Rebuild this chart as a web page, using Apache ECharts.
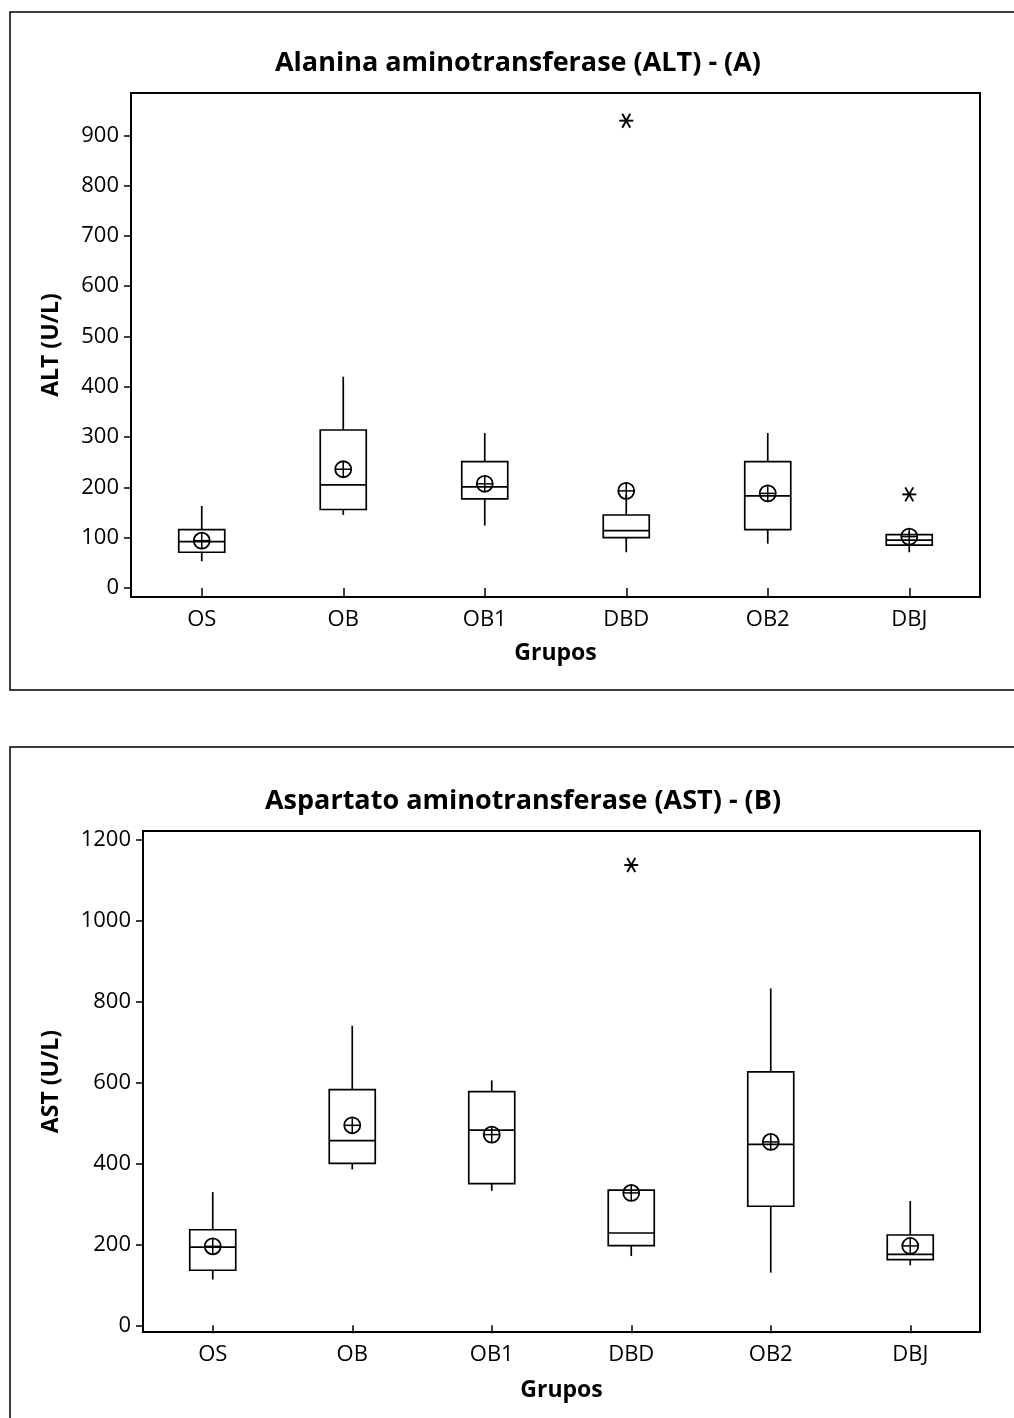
<!DOCTYPE html>
<html>
<head>
<meta charset="utf-8">
<style>
  html, body { margin: 0; padding: 0; background: #fff; }
  #chart { width: 1014px; height: 1418px; }
</style>
</head>
<body>
<div id="chart"></div>
<script src="https://cdn.jsdelivr.net/npm/echarts@6/dist/echarts.min.js"></script>
<script>
  const groups = ['OS', 'OB', 'OB1', 'DBD', 'OB2', 'DBJ'];

  // [min, Q1, mediana, Q3, max]
  const altBox = [
    [53, 71, 92, 116, 163],
    [145, 156, 205, 314, 420],
    [124, 177, 201, 251, 308],
    [71, 100, 114, 145, 185],
    [88, 116, 183, 251, 308],
    [71, 85, 95, 106, 112]
  ];
  const altMean = [94, 236, 207, 193, 188, 102];
  const altOutliers = [[3, 929], [5, 186]];
  const altTicks = [0, 100, 200, 300, 400, 500, 600, 700, 800, 900];

  const astBox = [
    [113, 136, 193, 236, 329],
    [385, 400, 456, 582, 740],
    [332, 350, 482, 577, 605],
    [171, 197, 228, 334, 334],
    [130, 294, 447, 626, 832],
    [148, 162, 175, 223, 307]
  ];
  const astMean = [195, 494, 471, 327, 453, 196];
  const astOutliers = [[3, 1137]];
  const astTicks = [0, 200, 400, 600, 800, 1000, 1200];

  const FONT = 'Open Sans';
  const LW = 1.7;
  const chart = echarts.init(document.getElementById('chart'));

  function renderBox(params, api) {
    const i = api.value(0);
    const pMin = api.coord([i, api.value(1)]);
    const pQ1 = api.coord([i, api.value(2)]);
    const pMed = api.coord([i, api.value(3)]);
    const pQ3 = api.coord([i, api.value(4)]);
    const pMax = api.coord([i, api.value(5)]);
    const cx = pMed[0];
    const hw = 23;
    const st = { stroke: '#000', lineWidth: LW };
    return {
      type: 'group',
      children: [
        { type: 'line', shape: { x1: cx, y1: pMin[1], x2: cx, y2: pQ1[1] }, style: st },
        { type: 'line', shape: { x1: cx, y1: pQ3[1], x2: cx, y2: pMax[1] }, style: st },
        { type: 'rect', shape: { x: cx - hw, y: pQ3[1], width: hw * 2, height: pQ1[1] - pQ3[1] },
          style: { fill: '#fff', stroke: '#000', lineWidth: LW } },
        { type: 'line', shape: { x1: cx - hw, y1: pMed[1], x2: cx + hw, y2: pMed[1] }, style: st }
      ]
    };
  }

  function renderMean(params, api) {
    const p = api.coord([api.value(0), api.value(1)]);
    const r = 8;
    const st = { stroke: '#000', lineWidth: 1.5, fill: null };
    return {
      type: 'group',
      children: [
        { type: 'circle', shape: { cx: p[0], cy: p[1], r: r }, style: { stroke: '#000', lineWidth: 1.8, fill: 'none' } },
        { type: 'line', shape: { x1: p[0] - r, y1: p[1], x2: p[0] + r, y2: p[1] }, style: st },
        { type: 'line', shape: { x1: p[0], y1: p[1] - r, x2: p[0], y2: p[1] + r }, style: st }
      ]
    };
  }

  function renderStar(params, api) {
    const p = api.coord([api.value(0), api.value(1)]);
    const st = { stroke: '#000', lineWidth: 1.9 };
    return {
      type: 'group',
      children: [
        { type: 'line', shape: { x1: p[0] - 7, y1: p[1], x2: p[0] + 7, y2: p[1] }, style: st },
        { type: 'line', shape: { x1: p[0] - 4, y1: p[1] - 7, x2: p[0] + 4, y2: p[1] + 7 }, style: st },
        { type: 'line', shape: { x1: p[0] + 4, y1: p[1] - 7, x2: p[0] - 4, y2: p[1] + 7 }, style: st }
      ]
    };
  }

  function xAxisFor(gridIndex) {
    return {
      type: 'category',
      gridIndex: gridIndex,
      data: groups,
      boundaryGap: true,
      name: 'Grupos',
      nameLocation: 'middle',
      nameGap: gridIndex === 0 ? 45 : 47,
      nameTextStyle: { fontFamily: FONT, fontSize: 23, fontWeight: 'bold', color: '#000' },
      axisLine: { show: false },
      axisTick: { show: true, alignWithLabel: true, length: 8, lineStyle: { color: '#000', width: 1.5 } },
      axisLabel: { fontFamily: FONT, fontSize: 22, color: '#000', margin: 12 },
      splitLine: { show: false }
    };
  }

  function yAxisFor(gridIndex, name, min, max, ticks, gap) {
    return {
      type: 'value',
      gridIndex: gridIndex,
      min: min,
      max: max,
      name: name,
      nameLocation: 'middle',
      nameGap: gap,
      nameRotate: 90,
      nameTextStyle: { fontFamily: FONT, fontSize: 23, fontWeight: 'bold', color: '#000' },
      axisLine: { show: false },
      axisTick: { show: true, length: 7, customValues: ticks, lineStyle: { color: '#000', width: 1.5 } },
      axisLabel: { fontFamily: FONT, fontSize: 22, color: '#000', margin: 12, customValues: ticks,
                   formatter: v => String(v) },
      splitLine: { show: false }
    };
  }

  const boxData = arr => arr.map((b, i) => [i].concat(b));
  const meanData = arr => arr.map((m, i) => [i, m]);

  const option = {
    animation: false,
    backgroundColor: '#fff',
    graphic: [
      { type: 'rect', shape: { x: 10, y: 12, width: 1020, height: 678 }, style: { fill: 'none', stroke: '#000', lineWidth: 1.5 }, z: -1 },
      { type: 'rect', shape: { x: 10, y: 747, width: 1020, height: 700 }, style: { fill: 'none', stroke: '#000', lineWidth: 1.5 }, z: -1 },
      { type: 'text', x: 518, y: 63, style: { text: 'Alanina aminotransferase (ALT) - (A)', font: 'bold 27px "Open Sans"', fill: '#000', textAlign: 'center', textVerticalAlign: 'middle' } },
      { type: 'text', x: 523, y: 801, style: { text: 'Aspartato aminotransferase (AST) - (B)', font: 'bold 27px "Open Sans"', fill: '#000', textAlign: 'center', textVerticalAlign: 'middle' } }
    ],
    grid: [
      { left: 131, top: 93, right: 34, height: 504, show: true, borderColor: '#000', borderWidth: 2, backgroundColor: 'transparent' },
      { left: 143, top: 831, right: 34, height: 501, show: true, borderColor: '#000', borderWidth: 2, backgroundColor: 'transparent' }
    ],
    xAxis: [xAxisFor(0), xAxisFor(1)],
    yAxis: [
      yAxisFor(0, 'ALT (U/L)', -18, 984, altTicks, 68),
      yAxisFor(1, 'AST (U/L)', -16.6, 1221, astTicks, 80)
    ],
    series: [
      { type: 'custom', xAxisIndex: 0, yAxisIndex: 0, renderItem: renderBox, encode: { x: 0, y: [1, 2, 3, 4, 5] }, data: boxData(altBox) },
      { type: 'custom', xAxisIndex: 0, yAxisIndex: 0, renderItem: renderMean, encode: { x: 0, y: 1 }, data: meanData(altMean), z: 3 },
      { type: 'custom', xAxisIndex: 0, yAxisIndex: 0, renderItem: renderStar, encode: { x: 0, y: 1 }, data: altOutliers, z: 3 },
      { type: 'custom', xAxisIndex: 1, yAxisIndex: 1, renderItem: renderBox, encode: { x: 0, y: [1, 2, 3, 4, 5] }, data: boxData(astBox) },
      { type: 'custom', xAxisIndex: 1, yAxisIndex: 1, renderItem: renderMean, encode: { x: 0, y: 1 }, data: meanData(astMean), z: 3 },
      { type: 'custom', xAxisIndex: 1, yAxisIndex: 1, renderItem: renderStar, encode: { x: 0, y: 1 }, data: astOutliers, z: 3 }
    ]
  };

  chart.setOption(option);
</script>
</body>
</html>
